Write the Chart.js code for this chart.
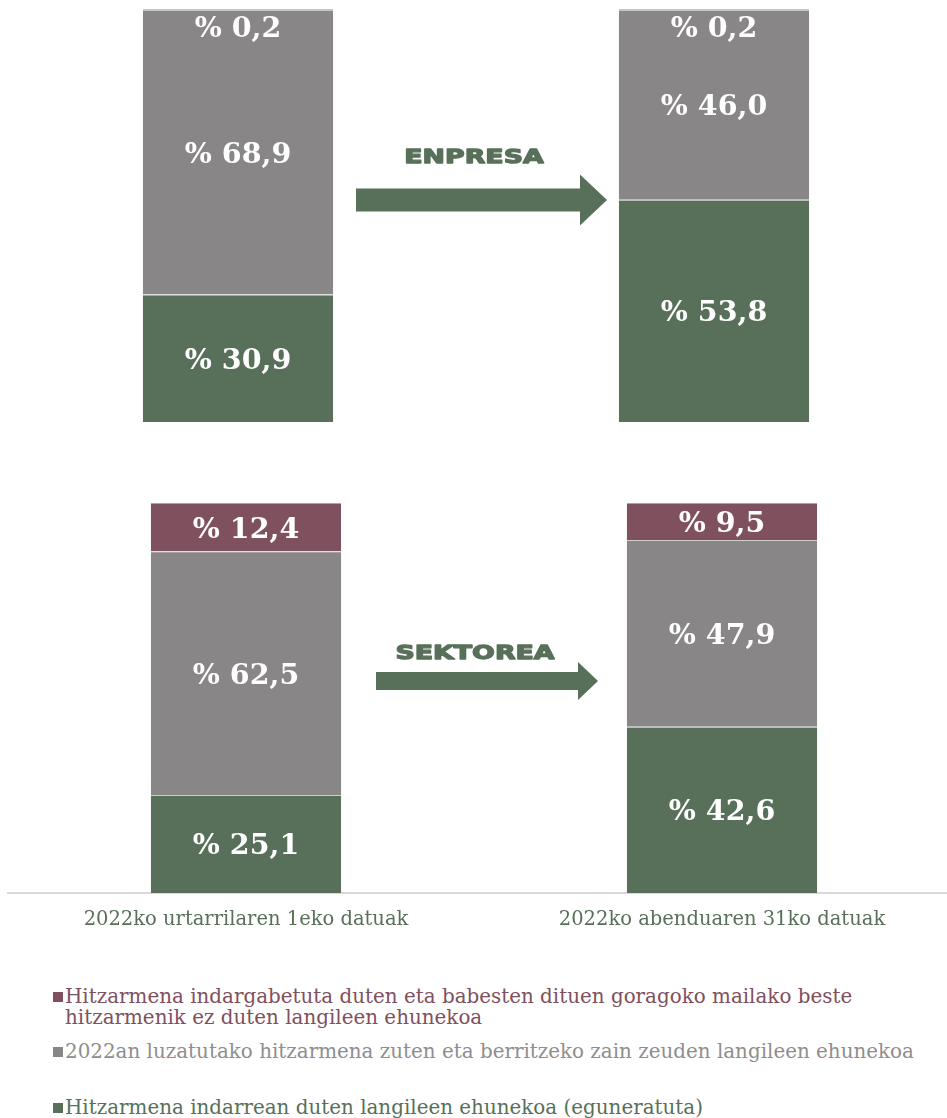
<!DOCTYPE html>
<html>
<head>
<meta charset="utf-8">
<script src="https://cdn.jsdelivr.net/npm/chart.js@4/dist/chart.umd.min.js"></script>
<style>
  html, body { margin: 0; padding: 0; background: #ffffff; overflow: hidden; width: 947px; height: 1118px; }
  #wrap { position: relative; width: 947px; height: 1118px; overflow: hidden; }
  #topBox { position: absolute; left: 0; top: 0; width: 962px; height: 432px; }
  #botBox { position: absolute; left: 0; top: 440px; width: 962px; height: 500px; }
  .leg { position: absolute; left: 53px; display: flex; align-items: flex-start; font-family: "DejaVu Serif", serif; font-size: 19.9px; line-height: 21px; }
  .leg .sq { width: 10px; height: 10px; margin-top: 6px; margin-right: 2px; flex: 0 0 auto; }
  .leg .tx { max-width: 860px; }
</style>
</head>
<body>
<div id="wrap">
  <div id="topBox"><canvas id="topChart"></canvas></div>
  <div id="botBox"><canvas id="botChart"></canvas></div>
  <div id="legend"></div>
</div>
<script>
// ---- data ----
const categories = ['2022ko urtarrilaren 1eko datuak', '2022ko abenduaren 31ko datuak'];
const seriesLabels = [
  'Hitzarmena indarrean duten langileen ehunekoa (eguneratuta)',
  '2022an luzatutako hitzarmena zuten eta berritzeko zain zeuden langileen ehunekoa',
  'Hitzarmena indargabetuta duten eta babesten dituen goragoko mailako beste hitzarmenik ez duten langileen ehunekoa'
];
const enpresaIndarrean = [30.9, 53.8];
const enpresaLuzatuta = [68.9, 46.0];
const enpresaIndargabetuta = [0.2, 0.2];
const sektoreaIndarrean = [25.1, 42.6];
const sektoreaLuzatuta = [62.5, 47.9];
const sektoreaIndargabetuta = [12.4, 9.5];
const panelTitles = ['ENPRESA', 'SEKTOREA'];

const colors = ['#587059', '#898687', '#7f505d'];
const edgeColors = ['#cfcfcf', '#cfcfcf', '#b7a0a6'];
const textColors = ['#587059', '#8e8e8e', '#7f505d'];

// ---- plugins ----
const valueLabels = {
  id: 'valueLabels',
  afterDatasetsDraw(chart) {
    const ctx = chart.ctx;
    ctx.save();
    ctx.fillStyle = '#ffffff';
    ctx.font = 'bold 28.5px "DejaVu Serif", serif';
    ctx.textAlign = 'center';
    ctx.textBaseline = 'middle';
    chart.data.datasets.forEach((ds, di) => {
      const meta = chart.getDatasetMeta(di);
      meta.data.forEach((bar, i) => {
        const v = ds.data[i];
        const txt = '% ' + v.toFixed(1).replace('.', ',');
        const top = Math.min(bar.y, bar.base);
        const bot = Math.max(bar.y, bar.base);
        let y = (top + bot) / 2 + 3;
        if (bot - top < 20) y = top + 21;
        ctx.fillText(txt, bar.x, y);
      });
    });
    ctx.restore();
  }
};

const flowArrow = {
  id: 'flowArrow',
  afterDraw(chart, args, o) {
    if (!o || !o.text) return;
    const ctx = chart.ctx;
    ctx.save();
    ctx.fillStyle = o.color;
    ctx.beginPath();
    ctx.moveTo(o.x0, o.y - o.shaft / 2);
    ctx.lineTo(o.x1 - o.headLen, o.y - o.shaft / 2);
    ctx.lineTo(o.x1 - o.headLen, o.y - o.headHalf);
    ctx.lineTo(o.x1, o.y);
    ctx.lineTo(o.x1 - o.headLen, o.y + o.headHalf);
    ctx.lineTo(o.x1 - o.headLen, o.y + o.shaft / 2);
    ctx.lineTo(o.x0, o.y + o.shaft / 2);
    ctx.closePath();
    ctx.fill();
    ctx.font = 'bold ' + o.fontSize + 'px "DejaVu Sans", sans-serif';
    ctx.textBaseline = 'alphabetic';
    ctx.textAlign = 'center';
    ctx.translate(o.textX, o.textY);
    ctx.scale(o.stretch, 1);
    ctx.strokeStyle = o.color;
    ctx.lineWidth = 1.3;
    ctx.lineJoin = 'round';
    ctx.strokeText(o.text, 0, 0);
    ctx.fillText(o.text, 0, 0);
    ctx.restore();
  }
};

function makeChart(id, series, opts) {
  const xScale = {
    stacked: true,
    display: opts.showX,
    grid: { display: false },
    border: { display: true, color: '#d9d9d9', width: 2 },
    ticks: {
      padding: 7,
      color: '#587059',
      font: { family: '"DejaVu Serif", serif', size: 19.5 }
    }
  };
  if (opts.showX) xScale.afterFit = (scale) => { scale.height = 47; };
  return new Chart(document.getElementById(id), {
    type: 'bar',
    data: {
      labels: categories,
      datasets: series.map((d, k) => ({
        label: seriesLabels[k],
        data: d,
        backgroundColor: colors[k],
        borderColor: edgeColors[k],
        borderWidth: { top: 1, left: 0, right: 0, bottom: 0 },
        borderSkipped: false,
        categoryPercentage: 1,
        barPercentage: 0.4
      }))
    },
    options: {
      responsive: true,
      maintainAspectRatio: false,
      animation: false,
      layout: { padding: opts.padding },
      plugins: {
        legend: { display: false },
        tooltip: { enabled: false },
        flowArrow: opts.arrow
      },
      scales: {
        x: xScale,
        y: { stacked: true, display: false, min: 0, max: 100 }
      }
    },
    plugins: [valueLabels, flowArrow]
  });
}

makeChart('topChart', [enpresaIndarrean, enpresaLuzatuta, enpresaIndargabetuta], {
  padding: { top: 9, bottom: 10, left: 0, right: 10 },
  showX: false,
  arrow: { text: panelTitles[0], color: '#587059', x0: 356, x1: 607, y: 200, shaft: 23, headLen: 27, headHalf: 25.5,
           textX: 474, textY: 163, fontSize: 20, stretch: 1.34 }
});

makeChart('botChart', [sektoreaIndarrean, sektoreaLuzatuta, sektoreaIndargabetuta], {
  padding: { top: 63, bottom: 0, left: 8, right: 2 },
  showX: true,
  arrow: { text: panelTitles[1], color: '#587059', x0: 376, x1: 598, y: 241, shaft: 18, headLen: 20, headHalf: 19,
           textX: 475, textY: 219, fontSize: 20, stretch: 1.34 }
});

// ---- legend (HTML) ----
const legendOrder = [2, 1, 0];
const legendTops = [986, 1041, 1097];
const legendEl = document.getElementById('legend');
legendOrder.forEach((k, n) => {
  const item = document.createElement('div');
  item.className = 'leg';
  item.style.top = legendTops[n] + 'px';
  item.style.color = textColors[k];
  const sq = document.createElement('span');
  sq.className = 'sq';
  sq.style.background = colors[k];
  const tx = document.createElement('span');
  tx.className = 'tx';
  tx.textContent = seriesLabels[k];
  item.appendChild(sq);
  item.appendChild(tx);
  legendEl.appendChild(item);
});
</script>
</body>
</html>
